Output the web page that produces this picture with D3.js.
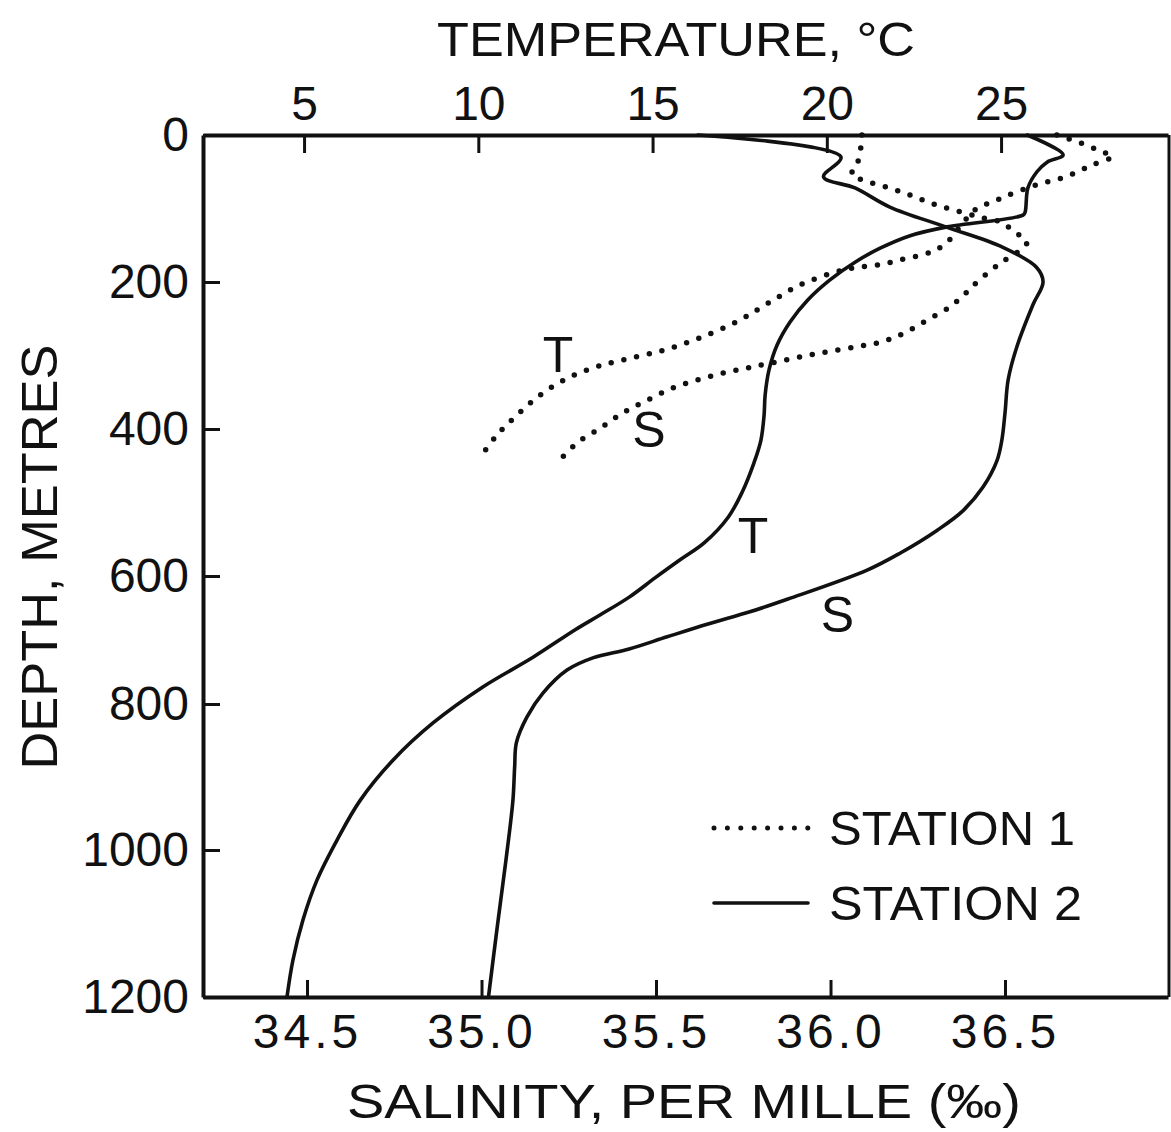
<!DOCTYPE html>
<html>
<head>
<meta charset="utf-8">
<script src="https://cdn.jsdelivr.net/npm/d3@7"></script>
<style>
  body { margin: 0; background: #fff; }
  svg { display: block; }
  text { font-family: "Liberation Sans", Arial, sans-serif; fill: #111; }
</style>
</head>
<body>
<svg id="chart" width="1171" height="1132"></svg>
<script>
// Axis ticks
const depthTicks = [0, 200, 400, 600, 800, 1000, 1200];
const tempTicks = [5, 10, 15, 20, 25];
const salTicks = [34.5, 35.0, 35.5, 36.0, 36.5];

// Station 1 (dotted) - temperature
const st1TempDepth = [0, 11, 23, 29, 41, 57, 68, 86, 102, 120, 146, 159, 170, 177, 180, 186, 204, 229, 254, 276, 293, 306, 316, 331, 354, 381, 408, 439];
const st1Temp = [26.6, 27.3, 27.9, 28.2, 27.6, 26.85, 26.0, 25.0, 24.25, 23.9, 23.45, 23.0, 22.1, 21.45, 20.85, 20.29, 19.23, 18.31, 17.42, 16.36, 15.3, 14.15, 13.35, 12.55, 11.77, 11.11, 10.54, 10.05];

// Station 1 (dotted) - salinity
const st1SalDepth = [0, 23, 41, 54, 61, 71, 82, 93, 103, 112, 118, 129, 136, 146, 158, 173, 182, 200, 214, 234, 252, 269, 281, 288, 295, 302, 310, 317, 324, 333, 344, 361, 378, 399, 418, 442];
const st1Sal = [36.09, 36.085, 36.075, 36.06, 36.09, 36.16, 36.23, 36.29, 36.36, 36.43, 36.486, 36.52, 36.54, 36.563, 36.54, 36.49, 36.466, 36.42, 36.39, 36.342, 36.276, 36.213, 36.15, 36.076, 35.99, 35.913, 35.832, 35.761, 35.692, 35.62, 35.549, 35.474, 35.405, 35.34, 35.276, 35.225];

// Station 2 (solid) - temperature
const st2TempDepth = [0, 27, 37, 50, 72, 105, 109, 125, 137, 154, 173, 197, 224, 254, 286, 320, 354, 381, 415, 446, 486, 520, 555, 578, 603, 633, 661, 684, 727, 773, 826, 877, 932, 986, 1041, 1095, 1150, 1200];
const st2Temp = [25.75, 26.78, 26.32, 26.03, 25.77, 25.69, 25.63, 23.45, 22.39, 21.53, 20.81, 20.09, 19.46, 18.95, 18.57, 18.34, 18.23, 18.2, 18.11, 17.91, 17.57, 17.17, 16.48, 15.79, 15.07, 14.33, 13.49, 12.78, 11.57, 10.14, 8.7, 7.55, 6.61, 5.95, 5.37, 4.97, 4.68, 4.51];

// Station 2 (solid) - salinity
const st2SalDepth = [0, 30, 57, 72, 98, 125, 152, 180, 200, 231, 288, 333, 378, 415, 443, 479, 511, 538, 569, 592, 636, 656, 675, 695, 714, 728, 747, 783, 818, 853, 886, 932, 1014, 1105, 1200];
const st2Sal = [35.62, 36.03, 35.98, 36.07, 36.17, 36.33, 36.49, 36.59, 36.609, 36.58, 36.534, 36.509, 36.5, 36.491, 36.477, 36.437, 36.38, 36.305, 36.199, 36.105, 35.878, 35.769, 35.649, 35.532, 35.423, 35.319, 35.245, 35.176, 35.13, 35.1, 35.095, 35.09, 35.07, 35.045, 35.02];

const svg = d3.select("#chart");

const plotLeft = 203, plotRight = 1168, plotTop = 135, plotBottom = 997;

// The original depth axis is hand drawn, so its tick spacing is a little uneven
const y = d3.scaleLinear()
  .domain(depthTicks)
  .range([135, 282, 429, 576, 704, 850, 997]);

const xTemp = d3.scaleLinear().domain([2.1, 29.79]).range([plotLeft, plotRight]);
const xSal = d3.scaleLinear().domain([34.202, 36.967]).range([plotLeft, plotRight]);

const fontSize = 48;

function styleAxis(g) {
  g.attr("font-family", null).attr("font-size", null);
  g.select(".domain").attr("stroke", "#111").attr("stroke-width", 4);
  g.selectAll(".tick line").attr("stroke", "#111").attr("stroke-width", 3);
  g.selectAll(".tick text").attr("fill", "#111").style("font-size", fontSize + "px");
}

// Depth axis (left)
svg.append("g")
  .attr("transform", `translate(${plotLeft},0)`)
  .call(d3.axisLeft(y).tickValues(depthTicks).tickSizeInner(-17).tickSizeOuter(0).tickPadding(14).tickFormat(d3.format("d")))
  .call(styleAxis);

// Temperature axis (top)
svg.append("g")
  .attr("transform", `translate(0,${plotTop})`)
  .call(d3.axisTop(xTemp).tickValues(tempTicks).tickSizeInner(-18).tickSizeOuter(0).tickPadding(15).tickFormat(d3.format("d")))
  .call(styleAxis);

// Salinity axis (bottom)
svg.append("g")
  .attr("transform", `translate(0,${plotBottom})`)
  .call(d3.axisBottom(xSal).tickValues(salTicks).tickSizeInner(-17).tickSizeOuter(0).tickPadding(17).tickFormat(d3.format(".1f")))
  .call(styleAxis)
  .selectAll(".tick text").attr("letter-spacing", 4);

// right frame edge, cut off by the scan
svg.append("line")
  .attr("x1", plotRight + 1).attr("x2", plotRight + 1)
  .attr("y1", plotTop).attr("y2", plotBottom)
  .attr("stroke", "#111").attr("stroke-width", 3);

// Axis titles
svg.append("text")
  .attr("x", 676).attr("y", 56)
  .attr("text-anchor", "middle")
  .attr("textLength", 478).attr("lengthAdjust", "spacingAndGlyphs")
  .style("font-size", "49px")
  .text("TEMPERATURE, °C");

svg.append("text")
  .attr("transform", "translate(57,557) rotate(-90)")
  .attr("text-anchor", "middle")
  .attr("textLength", 425).attr("lengthAdjust", "spacingAndGlyphs")
  .style("font-size", "50px")
  .text("DEPTH, METRES");

svg.append("text")
  .attr("x", 684).attr("y", 1118)
  .attr("text-anchor", "middle")
  .attr("textLength", 674).attr("lengthAdjust", "spacingAndGlyphs")
  .style("font-size", "49px")
  .text("SALINITY, PER MILLE (‰)");

// Profiles
const zip = (depths, vals) => depths.map((d, i) => ({ depth: d, value: vals[i] }));

const series = [
  { data: zip(st1TempDepth, st1Temp), x: xTemp, dotted: true },
  { data: zip(st1SalDepth, st1Sal), x: xSal, dotted: true },
  { data: zip(st2TempDepth, st2Temp), x: xTemp, dotted: false },
  { data: zip(st2SalDepth, st2Sal), x: xSal, dotted: false }
];

series.forEach(s => {
  const line = d3.line()
    .x(d => s.x(d.value))
    .y(d => y(d.depth))
    .curve(d3.curveCatmullRom.alpha(0.5));

  svg.append("path")
    .datum(s.data)
    .attr("fill", "none")
    .attr("stroke", "#111")
    .attr("stroke-linecap", "round")
    .attr("stroke-linejoin", "round")
    .attr("stroke-width", s.dotted ? 5.5 : 3.6)
    .attr("stroke-dasharray", s.dotted ? "0 13" : null)
    .attr("d", line);
});

// Curve labels
const curveLabels = [
  { text: "T", x: xTemp(12.29), y: y(322) },
  { text: "S", x: xSal(35.48), y: y(424) },
  { text: "T", x: xTemp(17.88), y: y(569) },
  { text: "S", x: xSal(36.02), y: y(687) }
];

svg.selectAll(".curve-label")
  .data(curveLabels)
  .join("text")
  .attr("class", "curve-label")
  .attr("x", d => d.x)
  .attr("y", d => d.y)
  .attr("text-anchor", "middle")
  .style("font-size", "50px")
  .text(d => d.text);

// Legend
const legend = [
  { label: "STATION 1", dotted: true, y: 828, width: 246 },
  { label: "STATION 2", dotted: false, y: 903, width: 253 }
];

legend.forEach(l => {
  svg.append("line")
    .attr("x1", 714).attr("x2", 808)
    .attr("y1", l.y).attr("y2", l.y)
    .attr("stroke", "#111")
    .attr("stroke-linecap", "round")
    .attr("stroke-width", l.dotted ? 5 : 3.6)
    .attr("stroke-dasharray", l.dotted ? "0 13.4" : null);

  svg.append("text")
    .attr("x", 829).attr("y", l.y + 17)
    .attr("textLength", l.width).attr("lengthAdjust", "spacingAndGlyphs")
    .style("font-size", "49px")
    .text(l.label);
});
</script>
</body>
</html>
